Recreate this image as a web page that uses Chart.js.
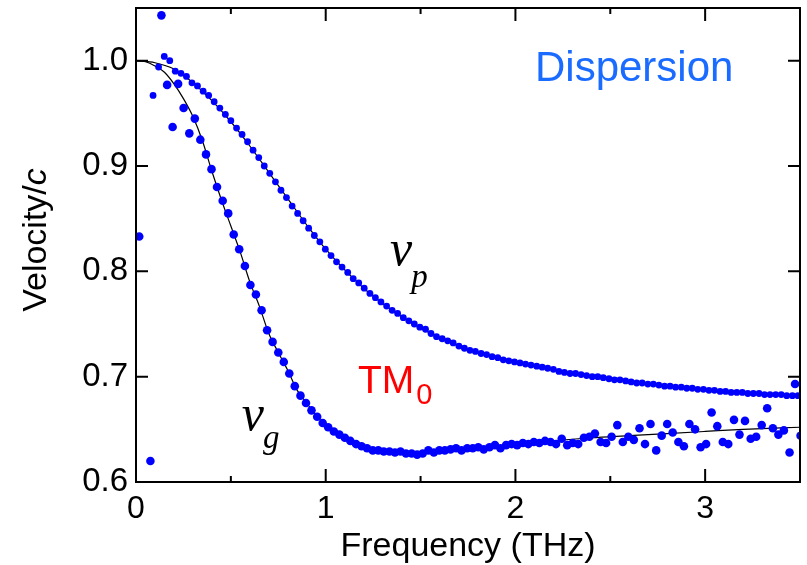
<!DOCTYPE html>
<html>
<head>
<meta charset="utf-8">
<script src="https://cdn.jsdelivr.net/npm/chart.js@4.4.1/dist/chart.umd.min.js"></script>
<style>
  body { margin: 0; background: #fff; }
</style>
</head>
<body>
<canvas id="dispersionChart" width="807" height="565"></canvas>
<script>
// phase velocity points (THz, v/c)
const freqP = [
  0.090, 0.119, 0.149, 0.178, 0.207, 0.237, 0.266, 0.295, 0.324, 0.354,
  0.383, 0.412, 0.442, 0.471, 0.500, 0.530, 0.559, 0.588, 0.617, 0.647,
  0.676, 0.705, 0.735, 0.764, 0.793, 0.823, 0.852, 0.881, 0.910, 0.940,
  0.969, 0.998, 1.028, 1.057, 1.086, 1.116, 1.145, 1.174, 1.203, 1.233,
  1.262, 1.291, 1.321, 1.350, 1.379, 1.409, 1.438, 1.467, 1.496, 1.526,
  1.555, 1.584, 1.614, 1.643, 1.672, 1.702, 1.731, 1.760, 1.789, 1.819,
  1.848, 1.877, 1.907, 1.936, 1.965, 1.995, 2.024, 2.053, 2.082, 2.112,
  2.141, 2.170, 2.200, 2.229, 2.258, 2.288, 2.317, 2.346, 2.375, 2.405,
  2.434, 2.463, 2.493, 2.522, 2.551, 2.581, 2.610, 2.639, 2.668, 2.698,
  2.727, 2.756, 2.786, 2.815, 2.844, 2.874, 2.903, 2.932, 2.961, 2.991,
  3.020, 3.049, 3.079, 3.108, 3.137, 3.167, 3.196, 3.225, 3.254, 3.284,
  3.313, 3.342, 3.372, 3.401, 3.430, 3.460, 3.489
];
const velP = [
  0.967, 0.994, 1.004, 1.000, 0.990, 0.988, 0.985, 0.979, 0.976, 0.971,
  0.967, 0.961, 0.955, 0.949, 0.943, 0.936, 0.930, 0.923, 0.915, 0.908,
  0.900, 0.893, 0.885, 0.877, 0.870, 0.862, 0.855, 0.848, 0.841, 0.834,
  0.828, 0.821, 0.815, 0.809, 0.804, 0.799, 0.793, 0.789, 0.784, 0.779,
  0.775, 0.771, 0.767, 0.763, 0.760, 0.756, 0.753, 0.750, 0.747, 0.745,
  0.741, 0.738, 0.736, 0.734, 0.732, 0.729, 0.727, 0.725, 0.724, 0.722,
  0.721, 0.719, 0.718, 0.716, 0.715, 0.714, 0.713, 0.712, 0.711, 0.710,
  0.709, 0.708, 0.707, 0.705, 0.704, 0.703, 0.703, 0.702, 0.701, 0.700,
  0.700, 0.699, 0.698, 0.697, 0.697, 0.696, 0.695, 0.694, 0.694, 0.693,
  0.693, 0.692, 0.691, 0.691, 0.690, 0.690, 0.689, 0.689, 0.688, 0.688,
  0.687, 0.687, 0.686, 0.686, 0.685, 0.685, 0.685, 0.684, 0.684, 0.684,
  0.683, 0.683, 0.683, 0.683, 0.682, 0.682, 0.682
];

// group velocity points
const freqG = [
  0.017, 0.076,
  0.134, 0.164, 0.193, 0.222, 0.251, 0.281, 0.310, 0.339, 0.369, 0.398,
  0.427, 0.457, 0.486, 0.515, 0.544, 0.574, 0.603, 0.632, 0.662, 0.691,
  0.720, 0.750, 0.779, 0.808, 0.837, 0.867, 0.896, 0.925, 0.955, 0.984,
  1.013, 1.043, 1.072, 1.101, 1.130, 1.160, 1.189, 1.218, 1.248, 1.277,
  1.306, 1.336, 1.365, 1.394, 1.423, 1.453, 1.482, 1.511, 1.541, 1.570,
  1.599, 1.628, 1.658, 1.687, 1.716, 1.746, 1.775, 1.804, 1.833, 1.863,
  1.892, 1.921, 1.951, 1.980, 2.009, 2.039, 2.068, 2.097, 2.126, 2.156,
  2.185, 2.214, 2.244, 2.273, 2.302, 2.331, 2.361, 2.390, 2.419, 2.449,
  2.478, 2.507, 2.537, 2.566, 2.595, 2.624, 2.654, 2.683, 2.712, 2.742,
  2.771, 2.800, 2.829, 2.859, 2.888, 2.917, 2.947, 2.976, 3.005, 3.034,
  3.064, 3.093, 3.122, 3.152, 3.181, 3.210, 3.240, 3.269, 3.298, 3.327,
  3.357, 3.386, 3.415, 3.445, 3.474, 3.503
];
const velG = [
  0.833, 0.620,
  1.043, 0.977, 0.937, 0.978, 0.955, 0.931, 0.945, 0.925, 0.911, 0.897,
  0.880, 0.867, 0.855, 0.835, 0.821, 0.805, 0.787, 0.778, 0.763, 0.744,
  0.733, 0.723, 0.714, 0.703, 0.691, 0.682, 0.675, 0.668, 0.662, 0.656,
  0.652, 0.648, 0.645, 0.642, 0.639, 0.636, 0.634, 0.632, 0.630, 0.630,
  0.629, 0.629, 0.628, 0.629, 0.627, 0.627, 0.626, 0.627, 0.630, 0.628,
  0.630, 0.630, 0.631, 0.632, 0.630, 0.632, 0.632, 0.633, 0.631, 0.633,
  0.635, 0.632, 0.635, 0.636, 0.635, 0.637, 0.636, 0.638, 0.637, 0.639,
  0.638, 0.636, 0.641, 0.635, 0.637, 0.636, 0.642, 0.643, 0.646, 0.638,
  0.637, 0.643, 0.654, 0.638, 0.643, 0.640, 0.651, 0.636, 0.655, 0.630,
  0.644, 0.655, 0.647, 0.638, 0.634, 0.655, 0.650, 0.633, 0.636, 0.666,
  0.653, 0.638, 0.636, 0.659, 0.645, 0.658, 0.641, 0.643, 0.654, 0.670,
  0.651, 0.645, 0.649, 0.628, 0.693, 0.644
];

// thin black model curves
const fitFreqP = [0, 0.1, 0.2, 0.3, 0.4, 0.5, 0.6, 0.7, 0.8, 0.9, 1.0, 1.2, 1.4, 1.6, 1.8, 2.0, 2.25, 2.5, 3.0, 3.5];
const fitVelP = [1.000, 0.998, 0.992, 0.979, 0.962, 0.942, 0.919, 0.894, 0.869, 0.844, 0.821, 0.784, 0.757, 0.737, 0.723, 0.714, 0.705, 0.698, 0.688, 0.682];
const fitFreqG = [0, 0.05, 0.1, 0.15, 0.2, 0.25, 0.3, 0.35, 0.4, 0.45, 0.5, 0.55, 0.6, 0.65, 0.7, 0.75, 0.8, 0.85, 0.9, 0.95, 1.0, 1.1, 1.2, 1.3, 1.4, 1.5, 1.6, 1.8, 2.0, 2.2, 2.4, 2.6, 2.8, 3.0, 3.2, 3.5];
const fitVelG = [1.000, 0.999, 0.995, 0.989, 0.978, 0.964, 0.947, 0.924, 0.895, 0.868, 0.843, 0.818, 0.790, 0.767, 0.741, 0.723, 0.706, 0.687, 0.675, 0.663, 0.654, 0.642, 0.634, 0.629, 0.628, 0.627, 0.629, 0.632, 0.635, 0.639, 0.642, 0.644, 0.646, 0.648, 0.650, 0.652];

const xMajorTicks = [0, 1, 2, 3];
const xMinorTicks = [0.5, 1.5, 2.5, 3.5];
const yTicks = [0.6, 0.7, 0.8, 0.9, 1.0];

const SANS = "'Liberation Sans', Arial, sans-serif";
const SERIF = "'Liberation Serif', 'Times New Roman', serif";

function toPoints(xs, ys) {
    return xs.map(function(x, i) { return {x: x, y: ys[i]}; });
}

// frame on all four sides, ticks pointing inward
const framePlugin = {
    id: 'frame',
    afterDraw(chart) {
        const ctx = chart.ctx;
        const a = chart.chartArea;
        const x = chart.scales.x, y = chart.scales.y;
        ctx.save();
        ctx.strokeStyle = '#000';
        ctx.lineWidth = 2;
        ctx.strokeRect(a.left, a.top, a.right - a.left, a.bottom - a.top);
        ctx.beginPath();
        function xTick(v, len) {
            const px = x.getPixelForValue(v);
            ctx.moveTo(px, a.bottom); ctx.lineTo(px, a.bottom - len);
            ctx.moveTo(px, a.top); ctx.lineTo(px, a.top + len);
        }
        xMajorTicks.forEach(v => xTick(v, 13));
        xMinorTicks.forEach(v => xTick(v, 6));
        yTicks.forEach(function(v) {
            const py = y.getPixelForValue(v);
            ctx.moveTo(a.left, py); ctx.lineTo(a.left + 12, py);
            ctx.moveTo(a.right, py); ctx.lineTo(a.right - 12, py);
        });
        ctx.stroke();
        ctx.restore();
    }
};

// text labels inside the plot + axis titles
const labelPlugin = {
    id: 'labels',
    afterDraw(chart) {
        const ctx = chart.ctx;
        const x = chart.scales.x, y = chart.scales.y;
        const a = chart.chartArea;
        ctx.save();
        ctx.textBaseline = 'alphabetic';
        ctx.textAlign = 'left';

        ctx.fillStyle = '#1a6bff';
        ctx.font = '42px ' + SANS;
        ctx.fillText('Dispersion', x.getPixelForValue(2.103), y.getPixelForValue(0.9805));

        // TM0
        ctx.fillStyle = '#ff0000';
        ctx.font = '39px ' + SANS;
        let px = x.getPixelForValue(1.170);
        ctx.fillText('TM', px, y.getPixelForValue(0.6846));
        px += ctx.measureText('TM').width + 2;
        ctx.font = '29px ' + SANS;
        ctx.fillText('0', px, y.getPixelForValue(0.674));

        // v_p and v_g
        ctx.fillStyle = '#000';
        function vLabel(f, v, sub, subDrop) {
            ctx.font = 'italic 50px ' + SERIF;
            const px0 = x.getPixelForValue(f);
            const py0 = y.getPixelForValue(v);
            ctx.fillText('v', px0, py0);
            const w = ctx.measureText('v').width;
            ctx.font = 'italic 33px ' + SERIF;
            ctx.fillText(sub, px0 + w - 1, py0 + subDrop);
        }
        vLabel(1.339, 0.806, 'p', 22);
        vLabel(0.558, 0.6494, 'g', 18);

        // x title
        ctx.font = '34px ' + SANS;
        ctx.textAlign = 'center';
        ctx.fillText('Frequency (THz)', (a.left + a.right) / 2, 556);

        // y title with italic c
        ctx.translate(46, 240);
        ctx.rotate(-Math.PI / 2);
        ctx.textAlign = 'left';
        ctx.font = '34px ' + SANS;
        const w1 = ctx.measureText('Velocity/').width;
        ctx.font = 'italic 34px ' + SANS;
        const w2 = ctx.measureText('c').width;
        const start = -(w1 + w2) / 2;
        ctx.font = '34px ' + SANS;
        ctx.fillText('Velocity/', start, 0);
        ctx.font = 'italic 34px ' + SANS;
        ctx.fillText('c', start + w1, 0);
        ctx.restore();
    }
};

const ctx = document.getElementById('dispersionChart').getContext('2d');
new Chart(ctx, {
    type: 'scatter',
    data: {
        datasets: [
            {
                label: 'vp',
                data: toPoints(freqP, velP),
                pointRadius: 3.4,
                pointBackgroundColor: '#0000ff',
                pointBorderWidth: 0,
                order: 1
            },
            {
                label: 'vg',
                data: toPoints(freqG, velG),
                pointRadius: 4.3,
                pointBackgroundColor: '#0000ff',
                pointBorderWidth: 0,
                order: 1
            },
            {
                type: 'line',
                label: 'fit vp',
                data: toPoints(fitFreqP, fitVelP),
                borderColor: '#000',
                borderWidth: 1.2,
                pointRadius: 0,
                fill: false,
                cubicInterpolationMode: 'monotone',
                order: 2
            },
            {
                type: 'line',
                label: 'fit vg',
                data: toPoints(fitFreqG, fitVelG),
                borderColor: '#000',
                borderWidth: 1.2,
                pointRadius: 0,
                fill: false,
                cubicInterpolationMode: 'monotone',
                order: 2
            }
        ]
    },
    options: {
        responsive: false,
        animation: false,
        devicePixelRatio: 1,
        layout: { padding: { top: 8, right: 7, left: 0, bottom: 0 } },
        plugins: {
            legend: { display: false },
            tooltip: { enabled: false }
        },
        scales: {
            x: {
                type: 'linear',
                min: 0,
                max: 3.5,
                grid: { display: false, drawTicks: false },
                border: { display: false },
                ticks: {
                    stepSize: 0.5,
                    padding: 8,
                    maxRotation: 0,
                    autoSkip: false,
                    color: '#000',
                    font: { family: SANS, size: 32 },
                    callback: v => Number.isInteger(v) ? String(v) : ''
                },
                afterFit: s => { s.height = 83; s.paddingLeft = 0; s.paddingRight = 0; }
            },
            y: {
                type: 'linear',
                min: 0.6,
                max: 1.05,
                grid: { display: false, drawTicks: false },
                border: { display: false },
                ticks: {
                    stepSize: 0.1,
                    padding: 8,
                    color: '#000',
                    font: { family: SANS, size: 33 },
                    callback: v => Math.abs(v * 10 - Math.round(v * 10)) < 1e-6 ? v.toFixed(1) : ''
                },
                afterFit: s => { s.width = 136; s.paddingTop = 0; s.paddingBottom = 0; }
            }
        }
    },
    plugins: [framePlugin, labelPlugin]
});
</script>
</body>
</html>
